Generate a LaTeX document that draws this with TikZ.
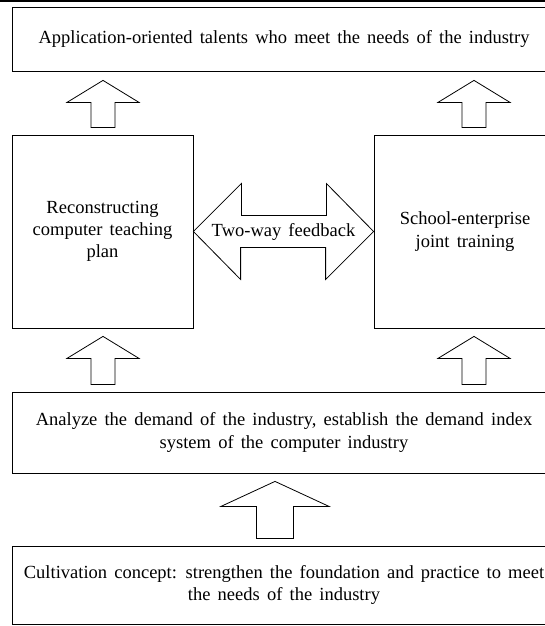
\documentclass[tikz,border=0pt]{standalone}
\usepackage{fontspec}
\setmainfont{Liberation Serif}[WordSpace=1.55]
\usetikzlibrary{positioning, calc}
% block arrow pointing up: tip, half head, half shaft, head length, total length
\newcommand{\upblock}[5]{%
  \draw[blk] #1 -- ++(#2,#4) -- ++(-#2+#3,0) -- ++(0,#5-#4) -- ++(-2*#3,0)
    -- ++(0,-#5+#4) -- ++(-#2+#3,0) -- cycle;}

\begin{document}
\begin{tikzpicture}[x=1pt, y=-1pt,
      box/.style={draw, line width=0.8pt, inner sep=0pt, align=center,
        font=\fontsize{18.5}{22.3}\selectfont},
      blk/.style={draw, line width=0.8pt, fill=white, line join=miter}]
    \useasboundingbox (0,0) rectangle (545,626);
    \clip (0,0) rectangle (545,626);
    \fill (0,0) rectangle (545,2.2);

    \node[box, minimum width=544pt, minimum height=64pt] (goal) at (284,39)
      {Application-oriented talents who meet the needs of the industry};
    \node[box, minimum width=181pt, minimum height=193pt] (plan) at (102.5,231.5)
      {Reconstructing\\computer teaching\\plan};
    \node[box, minimum width=182pt, minimum height=193pt] (training) at (465,231.5)
      {School-enterprise\\joint training};
    \node[box, minimum width=544pt, minimum height=81pt] (demand) at (284,432.5)
      {Analyze the demand of the industry, establish the demand index\\system of the computer industry};
    \node[box, minimum width=544pt, minimum height=78pt] (concept) at (284,585)
      {Cultivation concept: strengthen the foundation and practice to meet\\the needs of the industry};

    % up arrows
    \upblock{($(goal.south -| plan.north)+(0.5,9)$)}{36}{12}{22}{47}
    \upblock{($(goal.south -| training.north)+(9,9)$)}{36}{12}{22}{47}
    \upblock{($(plan.south)+(0.5,8)$)}{36}{12}{22}{48}
    \upblock{($(training.south)+(9,8)$)}{36}{12}{22}{48}
    \upblock{($(demand.south)+(-9,8)$)}{54}{18.5}{25}{57}

    % two-way arrow
    \draw[blk] (plan.east) -- ++(48,-48) -- ++(0,32) -- ++(85,0) -- ++(0,-32)
      -- (training.west) -- ++(-48,48) -- ++(0,-32) -- ++(-85,0) -- ++(0,32) -- cycle;
    \node[font=\fontsize{18.5}{22.3}\selectfont] (fb) at ($(plan.east)!0.5!(training.west)$)
      {Two-way feedback};
  \end{tikzpicture}
\end{document}
